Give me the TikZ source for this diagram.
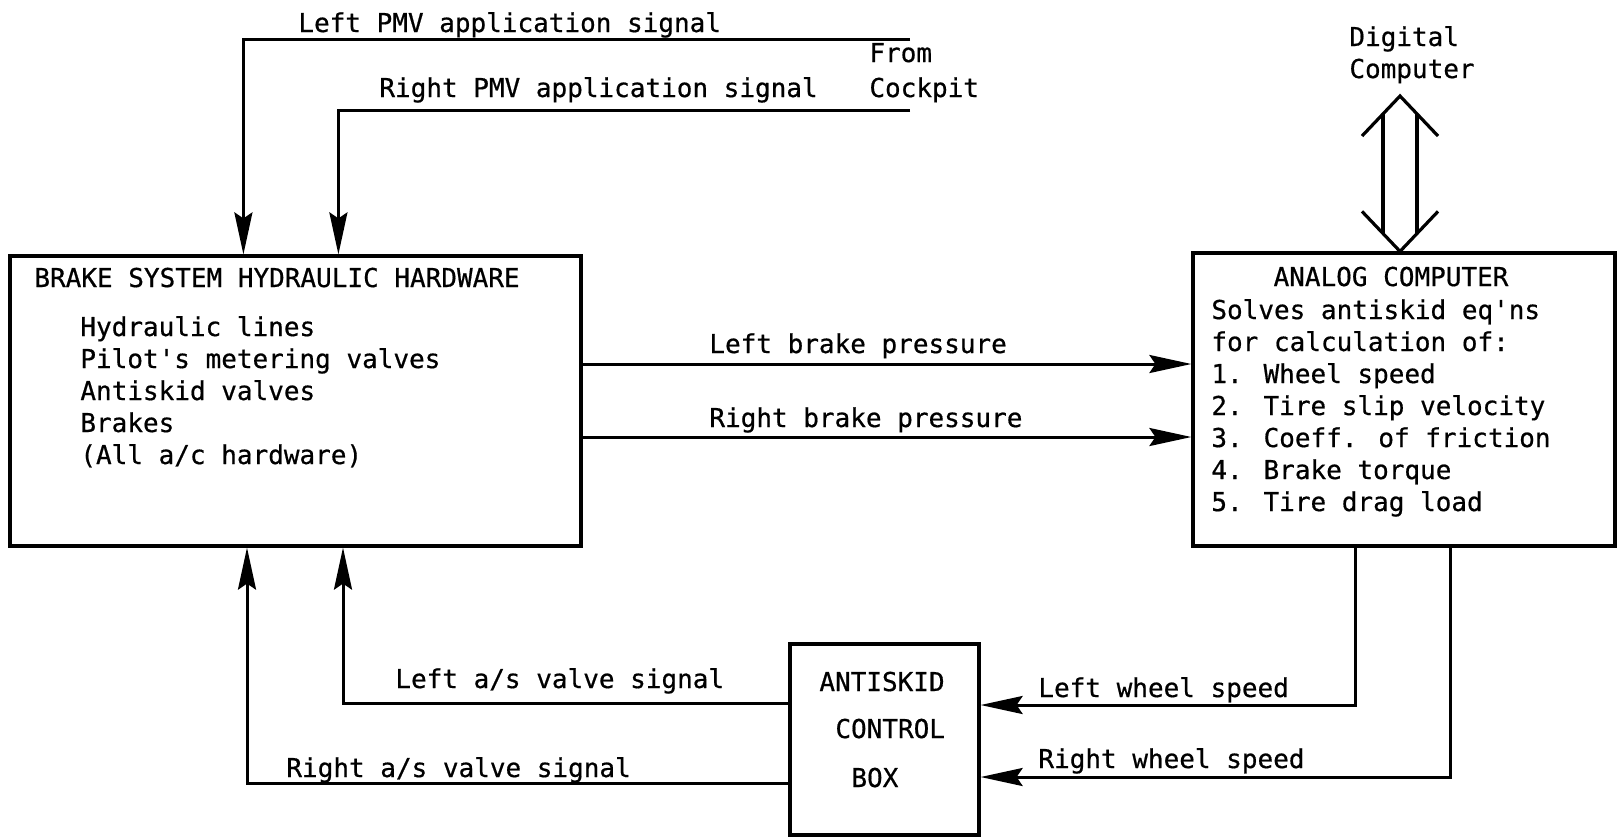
\documentclass[tikz,border=0pt]{standalone}
\usepackage{fontspec}
\setmainfont{DejaVu Sans Mono}[FakeBold=0.6]
\usetikzlibrary{arrows.meta,calc,fit}
\begin{document}
\begin{tikzpicture}[x=0.5pt,y=-0.5pt,
  every node/.style={font=\fontsize{13pt}{16pt}\selectfont},
  box/.style={draw,line width=1.6pt,inner sep=0pt,rectangle},
  txt/.style={inner sep=0pt,anchor=base west},
  wire/.style={line width=1.5pt},
  arr/.style={wire,-{Stealth[length=21pt,width=9pt,inset=3pt]}},
  dbl/.style={line width=1.6pt,line join=miter}]
\useasboundingbox (0,0) rectangle (1620,837);
% boxes
\node[box,fit={(10,256) (581,546)}] (hyd) {};
\node[box,fit={(1193,253) (1615,546)}] (ana) {};
\node[box,fit={(790,644) (979,835)}] (ask) {};
% texts of the hydraulic box
\node[txt] (hydt) at (34,287) {BRAKE SYSTEM HYDRAULIC HARDWARE};
\node[txt] (h1) at (80,336) {Hydraulic lines};
\node[txt] (h2) at (80,368) {Pilot\textquotesingle s metering valves};
\node[txt] (h3) at (80,400) {Antiskid valves};
\node[txt] (h4) at (80,432) {Brakes};
\node[txt] (h5) at (80,464) {(All a/c hardware)};
% texts of the analog box
\node[inner sep=0pt,anchor=base] (anat) at (1391,286) {ANALOG COMPUTER};
\node[txt] (a1) at (1211,319) {Solves antiskid eq\textquotesingle ns};
\node[txt] (a2) at (1211,351) {for calculation of:};
\node[txt] (a3) at (1211,383) {1. Wheel speed};
\node[txt] (a4) at (1211,415) {2. Tire slip velocity};
\node[txt] (a5) at (1211,447) {3. Coeff. of friction};
\node[txt] (a6) at (1211,479) {4. Brake torque};
\node[txt] (a7) at (1211,511) {5. Tire drag load};
% antiskid box texts
\node[txt] (k1) at (819,691) {ANTISKID};
\node[txt] (k2) at (835,738) {CONTROL};
\node[txt] (k3) at (851,787) {BOX};
% other labels
\node[txt] (lpmv) at (298,32) {Left PMV application signal};
\node[txt] (rpmv) at (379,97) {Right PMV application signal};
\node[txt] (from) at (869,62) {From};
\node[txt] (cock) at (869,97) {Cockpit};
\node[txt] (dig1) at (1349,46) {Digital};
\node[txt] (dig2) at (1349,78) {Computer};
\node[txt] (lbpt) at (709,353) {Left brake pressure};
\node[txt] (rbpt) at (709,427) {Right brake pressure};
\node[txt] (lwst) at (1038,697) {Left wheel speed};
\node[txt] (rwst) at (1038,768) {Right wheel speed};
\node[txt] (last) at (395,688) {Left a/s valve signal};
\node[txt] (rast) at (286,777) {Right a/s valve signal};
% reference coordinates
\coordinate (cl) at (910,39);
\coordinate (cr) at (910,110);
\coordinate (lbp) at (0,364);
\coordinate (rbp) at (0,437);
\coordinate (lws) at (1355,705);
\coordinate (rws) at (1450,777);
\coordinate (las) at (343,703);
\coordinate (ras) at (247,783);
\coordinate (dt) at (1400,96);
\coordinate (db) at (ana.north -| dt);
% connectors
\draw[arr] (cl) -| ($(hyd.north west)+(235,0)$);
\draw[arr] (cr) -| ($(hyd.north west)+(330,0)$);
\draw[arr] (hyd.east |- lbp) -- (ana.west |- lbp);
\draw[arr] (hyd.east |- rbp) -- (ana.west |- rbp);
\draw[arr] (ana.south -| lws) |- (ask.east |- lws);
\draw[arr] (ana.south -| rws) |- (ask.east |- rws);
\draw[arr] (ask.west |- las) -| (hyd.south -| las);
\draw[arr] (ask.west |- ras) -| (hyd.south -| ras);
% double arrow to digital computer
\draw[dbl] ($(dt)+(-38,40)$) -- (dt) -- ($(dt)+(38,40)$);
\draw[dbl] ($(db)+(-38,-40)$) -- (db) -- ($(db)+(38,-40)$);
\draw[dbl] ($(dt)+(-17,18)$) -- ($(db)+(-17,-18)$);
\draw[dbl] ($(dt)+(17,18)$) -- ($(db)+(17,-18)$);
\end{tikzpicture}
\end{document}
